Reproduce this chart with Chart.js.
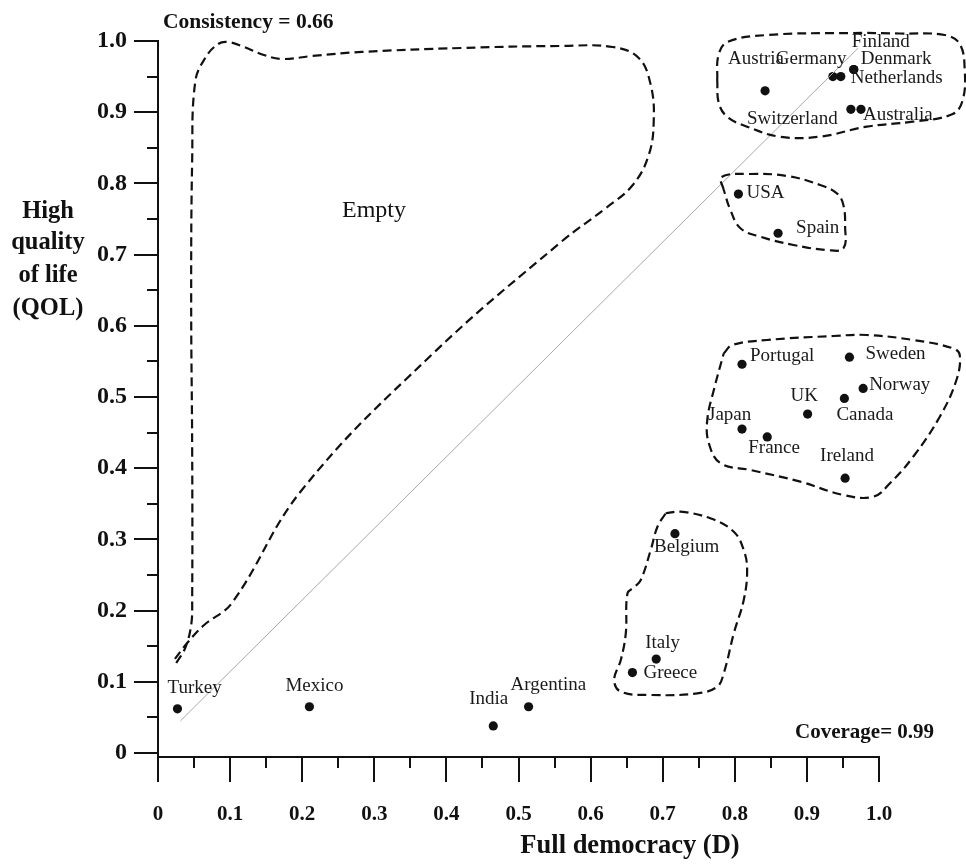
<!DOCTYPE html>
<html>
<head>
<meta charset="utf-8">
<title>Full democracy vs high quality of life</title>
<script src="https://cdn.jsdelivr.net/npm/chart.js@4.4.1/dist/chart.umd.min.js"></script>
<style>
  html, body { margin: 0; padding: 0; background: #fff; }
  canvas { display: block; }
</style>
</head>
<body>
<canvas id="chart" width="966" height="864"></canvas>
<script>
// Country scores: D = full democracy membership, QOL = high quality of life membership
const countries = ['Turkey', 'Mexico', 'India', 'Argentina', 'Greece', 'Italy', 'Belgium',
    'Portugal', 'Sweden', 'Norway', 'Canada', 'UK', 'Japan', 'France', 'Ireland',
    'USA', 'Spain', 'Austria', 'Germany', 'Netherlands', 'Finland', 'Denmark',
    'Switzerland', 'Australia'];
const democracy = [0.027, 0.21, 0.465, 0.514, 0.658, 0.691, 0.717,
    0.81, 0.959, 0.978, 0.952, 0.901, 0.81, 0.845, 0.953,
    0.805, 0.86, 0.842, 0.936, 0.947, 0.965, 0.965,
    0.961, 0.975];
const qol = [0.062, 0.065, 0.038, 0.065, 0.113, 0.132, 0.308,
    0.546, 0.556, 0.512, 0.498, 0.476, 0.455, 0.444, 0.386,
    0.785, 0.73, 0.93, 0.95, 0.95, 0.96, 0.96,
    0.904, 0.904];

const xTickValues = [0, 0.1, 0.2, 0.3, 0.4, 0.5, 0.6, 0.7, 0.8, 0.9, 1.0];
const xTickLabels = ['0', '0.1', '0.2', '0.3', '0.4', '0.5', '0.6', '0.7', '0.8', '0.9', '1.0'];
const yTickValues = [0, 0.1, 0.2, 0.3, 0.4, 0.5, 0.6, 0.7, 0.8, 0.9, 1.0];
const yTickLabels = ['0', '0.1', '0.2', '0.3', '0.4', '0.5', '0.6', '0.7', '0.8', '0.9', '1.0'];
const minorTicks = [0.05, 0.15, 0.25, 0.35, 0.45, 0.55, 0.65, 0.75, 0.85, 0.95];

// diagonal D = QOL reference line
const diagonal = [[0.031, 0.045], [0.971, 0.99]];

// hand drawn dashed regions, in (D, QOL) units
const emptyRegion = [[0.0253, 0.1264], [0.0377, 0.1475], [0.046, 0.1798], [0.0474, 0.2149],
    [0.0474, 0.4256], [0.046, 0.6362], [0.0474, 0.8329], [0.0516, 0.9424], [0.0654, 0.9761],
    [0.0834, 0.9958], [0.0972, 0.9986], [0.1193, 0.9916], [0.1469, 0.9803], [0.1718, 0.9747],
    [0.2133, 0.9789], [0.2824, 0.9846], [0.4207, 0.9902], [0.559, 0.993], [0.6309, 0.9916],
    [0.6668, 0.9761], [0.6834, 0.9382], [0.6876, 0.889], [0.6807, 0.8399], [0.6585, 0.7978],
    [0.6212, 0.7654], [0.559, 0.7177], [0.3792, 0.559], [0.1995, 0.3694], [0.1025, 0.2107],
    [0.064, 0.1798], [0.0405, 0.1545], [0.0212, 0.1292]];
const topCluster = [[0.7756, 0.9452], [0.7774, 0.9803], [0.7899, 0.9986], [0.8447, 1.0084],
    [0.9599, 1.0112], [1.029, 1.0105], [1.0912, 1.0084], [1.112, 0.9958], [1.1189, 0.9593],
    [1.1161, 0.9171], [1.1023, 0.8975], [1.047, 0.8867], [0.983, 0.8797], [0.9178, 0.8656],
    [0.8626, 0.8656], [0.8171, 0.8797], [0.7894, 0.8937], [0.7778, 0.9129]];
const usaCluster = [[0.7847, 0.7907], [0.7815, 0.809], [0.8216, 0.8132], [0.8724, 0.8104],
    [0.9184, 0.7978], [0.9415, 0.7861], [0.9506, 0.7697], [0.953, 0.7392], [0.9506, 0.7088],
    [0.9277, 0.7065], [0.8815, 0.7135], [0.8355, 0.7251], [0.8078, 0.737], [0.7939, 0.7626]];
const midCluster = [[0.7847, 0.5614], [0.7964, 0.573], [0.8447, 0.5801], [0.9368, 0.5857],
    [0.983, 0.5871], [1.0474, 0.5801], [1.1027, 0.5684], [1.112, 0.559], [1.1074, 0.5239],
    [1.0843, 0.4723], [1.0474, 0.4161], [1.0152, 0.3788], [0.9921, 0.36], [0.9506, 0.3624],
    [0.8908, 0.3811], [0.8217, 0.3975], [0.7802, 0.407], [0.764, 0.435], [0.7618, 0.4677],
    [0.7709, 0.5098]];
const southCluster = [[0.7041, 0.3367], [0.7249, 0.3389], [0.766, 0.3296], [0.7986, 0.3108],
    [0.8124, 0.2851], [0.8171, 0.257], [0.8124, 0.2149], [0.7986, 0.1681], [0.7847, 0.1119],
    [0.7756, 0.0931], [0.748, 0.0838], [0.6834, 0.0815], [0.6419, 0.0861], [0.6327, 0.1025],
    [0.6419, 0.1306], [0.6488, 0.1681], [0.6512, 0.2243], [0.6603, 0.2327], [0.6696, 0.243],
    [0.6834, 0.2851], [0.6927, 0.3178]];

// where each country name sits relative to its dot (px: left edge, vertical middle)
const labelOffsets = {
    Turkey: [-10, -21], Mexico: [-24, -21], India: [-24, -27], Argentina: [-18, -22],
    Greece: [11, 0], Italy: [-11, -16], Belgium: [-21, 13], Portugal: [8, -8],
    Sweden: [16, -3], Norway: [6, -3], Canada: [-8, 17], UK: [-17, -18],
    Japan: [-34, -14], France: [-19, 11], Ireland: [-25, -22], USA: [8, -1],
    Spain: [18, -5], Austria: [-37, -32], Germany: [-57, -18], Netherlands: [10, 1],
    Finland: [-2, -27], Denmark: [7, -10], Switzerland: [-104, 10], Australia: [2, 6]
};

const SERIF = '"Liberation Serif", "Times New Roman", serif';
const INK = '#111';

const toPoints = arr => arr.map(([x, y]) => ({ x: x, y: y }));

function outline(shape, closed) {
    return {
        type: 'line',
        data: toPoints(closed ? shape.concat([shape[0]]) : shape),
        borderColor: INK,
        borderWidth: 2.2,
        borderDash: [9, 5],
        pointRadius: 0,
        tension: 0.4,
        capBezierPoints: false,
        fill: false,
        clip: false
    };
}

const annotations = {
    id: 'annotations',
    afterDatasetsDraw(chart) {
        const ctx = chart.ctx;
        const meta = chart.getDatasetMeta(chart.data.datasets.length - 1);
        ctx.save();
        ctx.font = '19px ' + SERIF;
        ctx.fillStyle = '#1a1a1a';
        ctx.textAlign = 'left';
        ctx.textBaseline = 'middle';
        meta.data.forEach((pt, i) => {
            const off = labelOffsets[countries[i]];
            ctx.fillText(countries[i], pt.x + off[0], pt.y + off[1]);
        });
        ctx.restore();
    },
    afterDraw(chart) {
        const ctx = chart.ctx;
        const area = chart.chartArea;
        const xs = chart.scales.x;
        const ys = chart.scales.y;
        ctx.save();

        // minor ticks
        ctx.strokeStyle = INK;
        ctx.lineWidth = 2;
        ctx.beginPath();
        minorTicks.forEach(v => {
            const px = Math.round(xs.getPixelForValue(v));
            ctx.moveTo(px, area.bottom);
            ctx.lineTo(px, area.bottom + 11);
            const py = Math.round(ys.getPixelForValue(v));
            ctx.moveTo(area.left - 11, py);
            ctx.lineTo(area.left, py);
        });
        ctx.stroke();

        ctx.fillStyle = INK;

        // axis titles
        ctx.font = 'bold 24.5px ' + SERIF;
        ctx.textAlign = 'center';
        ctx.textBaseline = 'alphabetic';
        ['High', 'quality', 'of life', '(QOL)'].forEach((line, i) => {
            ctx.fillText(line, 48, [218, 249, 282, 315][i]);
        });
        ctx.font = 'bold 26.5px ' + SERIF;
        ctx.textBaseline = 'middle';
        ctx.fillText('Full democracy (D)', 630, 846);

        // notes
        ctx.textAlign = 'left';
        ctx.font = 'bold 21.5px ' + SERIF;
        ctx.fillText('Consistency = 0.66', 163, 22);
        ctx.font = 'bold 21px ' + SERIF;
        ctx.fillText('Coverage= 0.99', 795, 733);
        ctx.font = '24px ' + SERIF;
        ctx.textAlign = 'center';
        ctx.fillText('Empty', 374, 211);

        ctx.restore();
    }
};

const ctx = document.getElementById('chart').getContext('2d');

new Chart(ctx, {
    type: 'scatter',
    data: {
        datasets: [
            outline(emptyRegion, false),
            outline(topCluster, true),
            outline(usaCluster, true),
            outline(midCluster, true),
            outline(southCluster, true),
            {
                type: 'line',
                data: toPoints(diagonal),
                borderColor: '#a8a8a8',
                borderWidth: 1,
                pointRadius: 0,
                fill: false
            },
            {
                type: 'scatter',
                label: 'Countries',
                data: democracy.map((d, i) => ({ x: d, y: qol[i] })),
                backgroundColor: INK,
                borderWidth: 0,
                pointRadius: 4.6,
                clip: false
            }
        ]
    },
    options: {
        responsive: false,
        animation: false,
        devicePixelRatio: 1,
        layout: { padding: { top: 41, right: 87, left: 0, bottom: 0 } },
        plugins: {
            legend: { display: false },
            tooltip: { enabled: false }
        },
        scales: {
            x: {
                type: 'linear',
                min: 0,
                max: 1,
                afterBuildTicks: scale => { scale.ticks = xTickValues.map(v => ({ value: v })); },
                afterFit: scale => { scale.height = 107; },
                ticks: {
                    callback: (value, i) => xTickLabels[i],
                    font: { family: SERIF, weight: 'bold', size: 21 },
                    color: INK,
                    padding: 20,
                    maxRotation: 0,
                    autoSkip: false
                },
                grid: { drawOnChartArea: false, tickLength: 25, color: INK, lineWidth: 2 },
                border: { color: INK, width: 2 }
            },
            y: {
                type: 'linear',
                min: -0.0056,
                max: 1,
                afterBuildTicks: scale => { scale.ticks = yTickValues.map(v => ({ value: v })); },
                afterFit: scale => { scale.width = 158; },
                ticks: {
                    callback: (value, i) => yTickLabels[i],
                    font: { family: SERIF, weight: 'bold', size: 24 },
                    color: INK,
                    padding: 7,
                    autoSkip: false
                },
                grid: { drawOnChartArea: false, tickLength: 24, color: INK, lineWidth: 2 },
                border: { color: INK, width: 2 }
            }
        }
    },
    plugins: [annotations]
});
</script>
</body>
</html>
